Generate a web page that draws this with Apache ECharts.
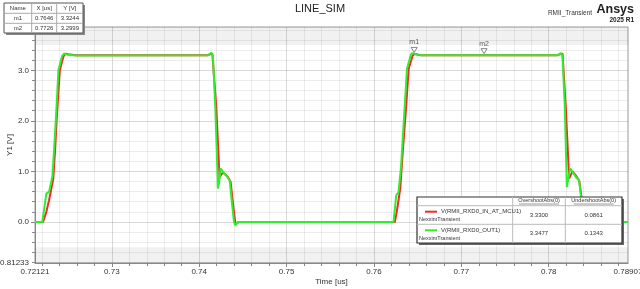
<!DOCTYPE html>
<html><head><meta charset="utf-8">
<script src="https://cdn.jsdelivr.net/npm/echarts@6/dist/echarts.min.js"></script>
<style>html,body{margin:0;padding:0;background:#fff}#c{width:640px;height:289px}</style>
</head><body><div id="c"></div>
<script>
// ---- data ----
const X_MIN = 0.72121, X_MAX = 0.78907;
const Y_MIN = -0.81233, Y_MAX = 3.857;

const xTickLabels = [0.72121, 0.73, 0.74, 0.75, 0.76, 0.77, 0.78, 0.78907];
const xMajorTicks = [0.73, 0.74, 0.75, 0.76, 0.77, 0.78];
const xMinorTicks = [0.722, 0.724, 0.726, 0.728, 0.730, 0.732, 0.734, 0.736, 0.738, 0.740,
  0.742, 0.744, 0.746, 0.748, 0.750, 0.752, 0.754, 0.756, 0.758, 0.760, 0.762, 0.764, 0.766,
  0.768, 0.770, 0.772, 0.774, 0.776, 0.778, 0.780, 0.782, 0.784, 0.786, 0.788];
const yTickLabels = [-0.81233, 0, 1, 2, 3];
const yMajorTicks = [0, 1, 2, 3];
const yMinorTicks = [-0.8, -0.6, -0.4, -0.2, 0, 0.2, 0.4, 0.6, 0.8, 1.0, 1.2, 1.4, 1.6, 1.8,
  2.0, 2.2, 2.4, 2.6, 2.8, 3.0, 3.2, 3.4, 3.6, 3.8];

const redName = 'V(RMII_RXD0_IN_AT_MCU1)';
const greenName = 'V(RMII_RXD0_OUT1)';
const redTime = [0.72121, 0.72213, 0.72251, 0.72282, 0.72330, 0.72352, 0.72368, 0.72405, 0.72445,
  0.72470, 0.72500, 0.72588, 0.74100, 0.74150, 0.74168, 0.74196, 0.74222, 0.74233, 0.74250,
  0.74272, 0.74329, 0.74360, 0.74387, 0.74414, 0.74437, 0.74460, 0.76240, 0.76270, 0.76301,
  0.76330, 0.76365, 0.76397, 0.76440, 0.76460, 0.76480, 0.76540, 0.77260, 0.78100, 0.78158,
  0.78169, 0.78195, 0.78222, 0.78233, 0.78250, 0.78272, 0.78310, 0.78348, 0.78375, 0.78410,
  0.78440, 0.78907];
const redVolt = [0, 0, 0.20, 0.43, 0.85, 1.45, 2.00, 3.00, 3.27,
  3.33, 3.32, 3.30, 3.30, 3.33, 3.30, 2.27, 1.28, 0.88, 0.93,
  0.98, 0.89, 0.79, 0.36, -0.03, -0.02, 0, 0, 0.30, 0.67,
  1.40, 2.20, 3.03, 3.28, 3.3244, 3.31, 3.30, 3.2999, 3.30, 3.33,
  3.30, 2.27, 1.28, 0.86, 0.92, 1.00, 0.92, 0.82, 0.49, -0.086,
  0, 0];
const greenTime = [0.72121, 0.72205, 0.72224, 0.72251, 0.72282, 0.72320, 0.72340, 0.72359, 0.72389,
  0.72430, 0.72454, 0.72475, 0.72492, 0.72588, 0.74100, 0.74139, 0.74157, 0.74184, 0.74207,
  0.74214, 0.74230, 0.74245, 0.74272, 0.74311, 0.74349, 0.74368, 0.74398, 0.74414, 0.74444,
  0.76224, 0.76255, 0.76281, 0.76310, 0.76345, 0.76378, 0.76420, 0.76435, 0.76455, 0.76530,
  0.78100, 0.78138, 0.78157, 0.78184, 0.78207, 0.78215, 0.78245, 0.78272, 0.78310, 0.78348,
  0.78367, 0.78400, 0.78415, 0.78445, 0.78907];
const greenVolt = [0, 0, 0.02, 0.56, 0.60, 0.90, 1.45, 2.00, 3.00,
  3.28, 3.33, 3.32, 3.31, 3.295, 3.30, 3.3477, 3.29, 2.27, 1.09,
  0.66, 0.80, 1.06, 0.99, 0.92, 0.82, 0.49, 0, -0.07, 0,
  0, 0.53, 0.59, 1.10, 2.10, 3.03, 3.30, 3.34, 3.33, 3.30,
  3.30, 3.34, 3.29, 2.27, 0.69, 0.66, 1.06, 0.99, 0.89, 0.82,
  0.53, 0, -0.1343, 0, 0];

const markerNames = ['m1', 'm2'];
const markerX = [0.7646, 0.7726];
const markerY = [3.3244, 3.2999];
const overshoot = ['3.3300', '3.3477'];
const undershoot = ['0.0861', '0.1343'];

// ---- chart ----
const FONT = 'Liberation Sans, Arial, sans-serif';
const RED = '#f22a2a', GREEN = '#2cf02c';
const chart = echarts.init(document.getElementById('c'), null, {renderer: 'canvas'});
const pairs = (t, v) => t.map((x, i) => [x, v[i]]);

function txt(text, x, y, size, opts) {
  opts = opts || {};
  return {type: 'text', x: x, y: y, z: 110, silent: true,
    style: {text: text, font: (opts.bold ? 'bold ' : '') + size + 'px ' + FONT,
      fill: opts.color || '#222', align: opts.align || 'center', verticalAlign: 'middle'}};
}
function rect(x, y, w, h, fill, stroke, lw, z) {
  return {type: 'rect', z: z || 100, silent: true, shape: {x: x, y: y, width: w, height: h},
    style: {fill: fill, stroke: stroke || null, lineWidth: lw || 0}};
}
function line(x1, y1, x2, y2, stroke, lw, z) {
  return {type: 'line', z: z || 105, silent: true, shape: {x1: x1, y1: y1, x2: x2, y2: y2},
    style: {stroke: stroke, lineWidth: lw || 1}};
}

const graphics = [];
// titles
graphics.push(txt('LINE_SIM', 320, 9, 11, {color: '#222'}));
graphics.push(txt('RMII_Transient', 570, 13, 6.5, {color: '#333'}));
graphics.push(txt('Ansys', 634, 10, 12.5, {bold: true, align: 'right', color: '#222'}));
graphics.push(txt('2025 R1', 634, 20, 6.5, {bold: true, align: 'right', color: '#222'}));
// y-axis name
graphics.push({type: 'text', x: 10, y: 145, rotation: Math.PI / 2, z: 110, silent: true,
  style: {text: 'Y1 [V]', font: '8px ' + FONT, fill: '#333', align: 'center', verticalAlign: 'middle'}});

// marker table
const mt = {x: 4, y: 3, w: 79, h: 30, cols: [4, 31.7, 56.7, 83], rows: [3, 13.3, 23.3, 33]};
graphics.push(rect(mt.x + 2, mt.y + 2, mt.w, mt.h, '#888', null, 0, 99));
graphics.push(rect(mt.x, mt.y, mt.w, mt.h, '#fff', '#555', 1, 100));
graphics.push(line(mt.cols[1], mt.y, mt.cols[1], mt.y + mt.h, '#aaa'));
graphics.push(line(mt.cols[2], mt.y, mt.cols[2], mt.y + mt.h, '#aaa'));
graphics.push(line(mt.x, mt.rows[1], mt.x + mt.w, mt.rows[1], '#aaa'));
graphics.push(line(mt.x, mt.rows[2], mt.x + mt.w, mt.rows[2], '#aaa'));
const mtHead = ['Name', 'X [us]', 'Y [V]'];
for (let c = 0; c < 3; c++) {
  const cx = (mt.cols[c] + mt.cols[c + 1]) / 2;
  graphics.push(txt(mtHead[c], cx, (mt.rows[0] + mt.rows[1]) / 2, 6, {color: '#333'}));
  for (let r = 0; r < markerNames.length; r++) {
    const vals = [markerNames[r], markerX[r].toFixed(4), markerY[r].toFixed(4)];
    graphics.push(txt(vals[c], cx, (mt.rows[r + 1] + mt.rows[r + 2]) / 2, 6, {color: '#333'}));
  }
}

// legend table
const lt = {x: 417, y: 197, w: 205, h: 46, cols: [417, 512.7, 565.3, 622], rows: [197, 205.7, 224.3, 243]};
graphics.push(rect(lt.x + 2, lt.y + 2, lt.w, lt.h, '#666', null, 0, 99));
graphics.push(rect(lt.x, lt.y, lt.w, lt.h, '#fff', '#333', 1.2, 100));
graphics.push(line(lt.cols[1], lt.y, lt.cols[1], lt.y + lt.h, '#bbb'));
graphics.push(line(lt.cols[2], lt.y, lt.cols[2], lt.y + lt.h, '#bbb'));
graphics.push(line(lt.x, lt.rows[1], lt.x + lt.w, lt.rows[1], '#bbb'));
graphics.push(line(lt.x, lt.rows[2], lt.x + lt.w, lt.rows[2], '#bbb'));
const hdr = ['OvershootAbs(0)', 'UndershootAbs(0)'];
for (let c = 0; c < 2; c++) {
  const cx = (lt.cols[c + 1] + lt.cols[c + 2]) / 2;
  graphics.push(txt(hdr[c], cx, 200.8, 5.5, {color: '#333'}));
  graphics.push(line(cx - 20, 204, cx + 20, 204, '#555', 0.6));
}
const names = [redName, greenName], cols = [RED, GREEN];
const vals = [overshoot, undershoot];
for (let r = 0; r < 2; r++) {
  const top = lt.rows[r + 1], bot = lt.rows[r + 2];
  graphics.push(line(425, top + 6, 437, top + 6, cols[r], 2));
  graphics.push(txt(names[r], 441, top + 6, 6, {align: 'left', color: '#333'}));
  graphics.push(txt('NexximTransient', 419, top + 14, 5.5, {align: 'left', color: '#333'}));
  graphics.push(txt(vals[0][r], (lt.cols[1] + lt.cols[2]) / 2, (top + bot) / 2, 6, {color: '#333'}));
  graphics.push(txt(vals[1][r], (lt.cols[2] + lt.cols[3]) / 2, (top + bot) / 2, 6, {color: '#333'}));
}

const labelStyle = {fontSize: 8, color: '#333', fontFamily: FONT};
const option = {
  animation: false,
  backgroundColor: '#fff',
  grid: {left: 35, right: 12, top: 27, bottom: 26, show: true, borderColor: '#999', borderWidth: 1,
    containLabel: false, outerBoundsMode: 'none'},
  xAxis: [
    {type: 'value', min: X_MIN, max: X_MAX, position: 'bottom',
      axisLine: {show: true, onZero: false, lineStyle: {color: '#888'}},
      axisTick: {show: true, customValues: xMinorTicks, length: 3, lineStyle: {color: '#888'}},
      axisLabel: Object.assign({customValues: xTickLabels, margin: 5, formatter: v => String(v)}, labelStyle),
      splitLine: {show: true, lineStyle: {color: 'rgba(0,0,0,0.07)', width: 1}},
      name: 'Time [us]', nameLocation: 'middle', nameGap: 15, nameMoveOverlap: false,
      nameTextStyle: {fontSize: 8, color: '#333', fontFamily: FONT}},
    {type: 'value', min: X_MIN, max: X_MAX, position: 'bottom',
      axisLine: {show: false, onZero: false},
      axisTick: {show: true, customValues: xMajorTicks, length: 4, lineStyle: {color: '#888'}},
      axisLabel: {show: false},
      splitLine: {show: true, lineStyle: {color: 'rgba(0,0,0,0.08)', width: 1}}}
  ],
  yAxis: [
    {type: 'value', min: Y_MIN, max: Y_MAX, position: 'left',
      axisLine: {show: true, onZero: false, lineStyle: {color: '#888'}},
      axisTick: {show: true, customValues: yMinorTicks, length: 3, lineStyle: {color: '#888'}},
      axisLabel: Object.assign({customValues: yTickLabels, margin: 6,
        formatter: v => (v === Y_MIN ? String(Y_MIN) : v.toFixed(1))}, labelStyle),
      splitLine: {show: true, lineStyle: {color: 'rgba(0,0,0,0.07)', width: 1}}},
    {type: 'value', min: Y_MIN, max: Y_MAX, position: 'left',
      axisLine: {show: false, onZero: false},
      axisTick: {show: true, customValues: yMajorTicks, length: 4, lineStyle: {color: '#888'}},
      axisLabel: {show: false},
      splitLine: {show: true, lineStyle: {color: 'rgba(0,0,0,0.08)', width: 1}}}
  ],
  series: [
    {type: 'line', name: redName, data: pairs(redTime, redVolt), showSymbol: false,
      lineStyle: {color: RED, width: 2}, itemStyle: {color: RED}, z: 3,
      markArea: {silent: true, itemStyle: {color: 'rgba(0,0,0,0.055)'},
        data: [[{yAxis: 3.5}, {yAxis: Y_MAX}], [{yAxis: Y_MIN}, {yAxis: -0.5}]]}},
    {type: 'line', name: greenName, data: pairs(greenTime, greenVolt), showSymbol: false,
      lineStyle: {color: GREEN, width: 2}, itemStyle: {color: GREEN}, z: 4},
    {type: 'scatter', data: markerX.map((x, i) => ({value: [x, markerY[i]], name: markerNames[i]})),
      symbol: 'triangle', symbolRotate: 180, symbolSize: [6, 5], symbolOffset: [0, -4],
      itemStyle: {color: '#fff', borderColor: '#444', borderWidth: 0.8}, z: 6,
      label: {show: true, position: 'top', distance: 1, formatter: p => p.name,
        fontSize: 7, color: '#333', fontFamily: FONT}}
  ],
  graphic: graphics
};
chart.setOption(option);
</script></body></html>
